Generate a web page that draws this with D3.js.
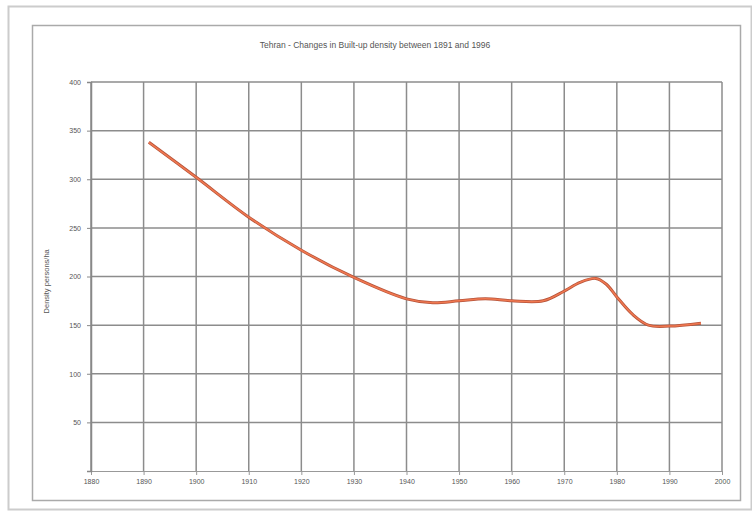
<!DOCTYPE html>
<html>
<head>
<meta charset="utf-8">
<script src="https://cdn.jsdelivr.net/npm/d3@7"></script>
<style>
  body { margin: 0; background: #fff; }
  text { font-family: "Liberation Sans", Arial, sans-serif; fill: #555; }
</style>
</head>
<body>
<div id="container"></div>
<script>
// data
const years = [1891, 1900, 1910, 1920, 1930, 1940, 1945, 1950, 1955, 1960, 1966, 1970, 1973, 1976, 1978, 1980, 1983, 1986, 1990, 1996];
const density = [338, 302, 261, 227, 199, 177, 173, 175, 177, 175, 175, 185, 194, 198, 192, 179, 161, 150, 149, 152];
const xTicks = d3.range(1880, 2001, 10);
const yTicks = [50, 100, 150, 200, 250, 300, 350, 400];
const title = "Tehran - Changes in Built-up density between 1891 and 1996";
const yLabel = "Density persons/ha";

const width = 752, height = 512;
const margin = { top: 82, right: 30, bottom: 41, left: 91 };

const svg = d3.select("#container").append("svg")
  .attr("width", width)
  .attr("height", height);

// outer frames
svg.append("rect").attr("x", 8.5).attr("y", 6.5).attr("width", 743).attr("height", 503)
  .attr("fill", "#fff").attr("stroke", "#ccc").attr("stroke-width", 2);
svg.append("rect").attr("x", 32.5).attr("y", 25.5).attr("width", 708).attr("height", 475)
  .attr("fill", "#fff").attr("stroke", "#aaa").attr("stroke-width", 1.5);

const x = d3.scaleLinear().domain([1880, 2000]).range([margin.left, width - margin.right]);
const y = d3.scaleLinear().domain([0, 400]).range([height - margin.bottom, margin.top]);

// grid
svg.append("g")
  .selectAll("line.v")
  .data(xTicks)
  .join("line")
  .attr("class", "v")
  .attr("x1", d => x(d)).attr("x2", d => x(d))
  .attr("y1", y(400)).attr("y2", y(0))
  .attr("stroke", "#8c8c8c").attr("stroke-width", 1.5);

svg.append("g")
  .selectAll("line.h")
  .data(yTicks)
  .join("line")
  .attr("class", "h")
  .attr("x1", x(1880)).attr("x2", x(2000))
  .attr("y1", d => y(d)).attr("y2", d => y(d))
  .attr("stroke", "#8c8c8c").attr("stroke-width", 1.5);

// axes
const xAxis = svg.append("g")
  .attr("transform", `translate(0,${y(0)})`)
  .call(d3.axisBottom(x).tickValues(xTicks).tickFormat(d3.format("d")).tickSize(4).tickPadding(4));
xAxis.select(".domain").attr("stroke", "#999");
xAxis.selectAll("line").attr("stroke", "#999");
xAxis.selectAll("text").attr("font-size", 7).attr("fill", "#555");

const yAxis = svg.append("g")
  .attr("transform", `translate(${x(1880)},0)`)
  .call(d3.axisLeft(y).tickValues(yTicks).tickSize(4).tickPadding(6));
yAxis.select(".domain").attr("stroke", "#888").attr("stroke-width", 1.5);
yAxis.selectAll("line").attr("stroke", "#888");
yAxis.selectAll("text").attr("font-size", 7).attr("fill", "#555");

// title and axis label
svg.append("text")
  .attr("x", 375).attr("y", 48)
  .attr("text-anchor", "middle")
  .attr("font-size", 8.5)
  .attr("fill", "#444")
  .text(title);

svg.append("text")
  .attr("transform", `translate(49,${y(195)}) rotate(-90)`)
  .attr("text-anchor", "middle")
  .attr("font-size", 7.5)
  .attr("fill", "#333")
  .text(yLabel);

// line
const pts = years.map((d, i) => [d, density[i]]);
const line = d3.line()
  .x(d => x(d[0]))
  .y(d => y(d[1]))
  .curve(d3.curveCatmullRom.alpha(0.5));

svg.append("path")
  .datum(pts)
  .attr("fill", "none")
  .attr("stroke", "#b5533a")
  .attr("stroke-width", 3)
  .attr("d", line);
svg.append("path")
  .datum(pts)
  .attr("fill", "none")
  .attr("stroke", "#f07850")
  .attr("stroke-width", 1.5)
  .attr("d", line);
</script>
</body>
</html>
